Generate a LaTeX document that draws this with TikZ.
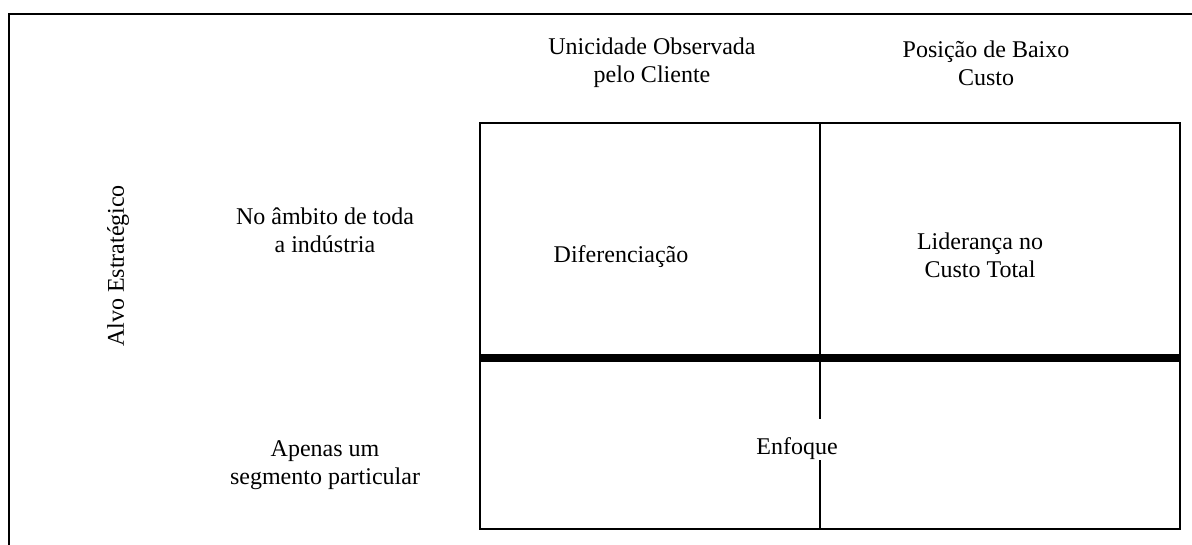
\documentclass[tikz,border=0pt]{standalone}
\usepackage{fontspec}
\setmainfont{Liberation Serif}
\usetikzlibrary{positioning,calc}

\begin{document}
\begin{tikzpicture}[
    x=0.5pt, y=-0.5pt,
    every node/.style={font=\fontsize{12}{14}\selectfont, align=center},
    thinline/.style={line width=1pt},
    thickline/.style={line width=4pt}
]

% Frame size (pixels of the reference)
\useasboundingbox (0,0) rectangle (1192,545);

% Grid corners
\def\gl{480}
\def\gr{1180}
\def\gt{123}
\def\gb{529}
\def\gm{358}
\def\gx{820}

% Outer border (top and left only)
\draw[thinline] (9,545) -- (9,14) -- (1192,14);

% Column headers
\node (uniq) at (652, 63) {Unicidade Observada\\pelo Cliente};
\node (cost) at (986, 63) {Posição de Baixo\\Custo};

% Row label
\node[rotate=90] (alvo) at (118, 266) {Alvo Estratégico};
\node (amb) at (325, 230) {No âmbito de toda\\a indústria};
\node (seg) at (325, 465) {Apenas um\\segmento particular};

% Grid
\draw[thinline] (\gl,\gt) rectangle (\gr,\gb);
\draw[thinline] (\gx,\gt) -- (\gx,\gm);
\draw[thinline] (\gx,\gm) -- (\gx,419);
\draw[thinline] (\gx,460) -- (\gx,\gb);
\draw[thickline] (\gl,\gm) -- (\gr,\gm);

% Cell texts
\node (dif) at (621, 257) {Diferenciação};
\node (lid) at (980, 255) {Liderança no\\Custo Total};
\node (enf) at (797, 449) {Enfoque};

\end{tikzpicture}
\end{document}
